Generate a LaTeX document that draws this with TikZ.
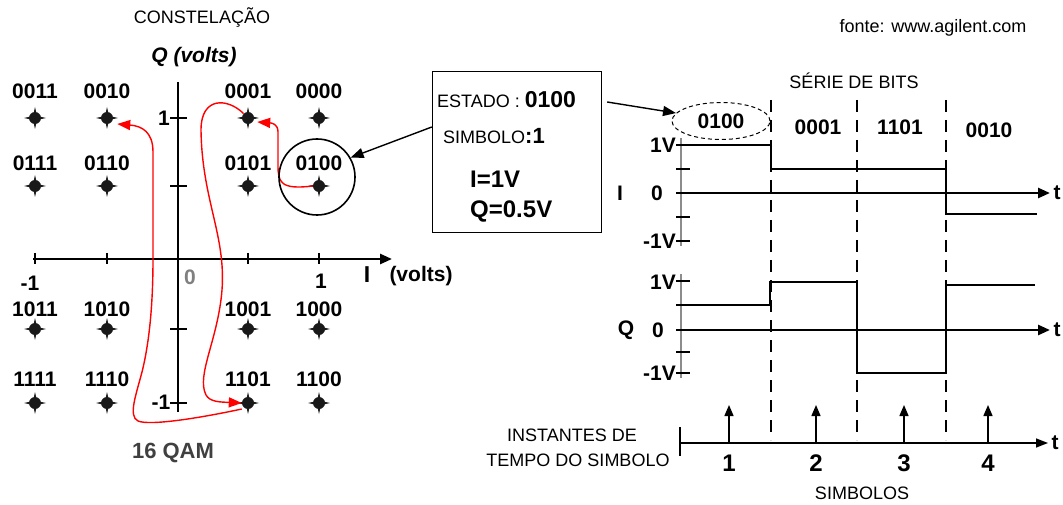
\documentclass[tikz,border=0pt]{standalone}
\usepackage{fontspec}
\setmainfont{Liberation Sans}
\usetikzlibrary{arrows.meta,shapes.geometric}

\tikzset{
  qampt/.style={circle, fill=black!90, inner sep=0pt, minimum size=12pt},
  ptstar/.style={black!90},
  bitlbl/.style={font=\fontsize{21}{23}\selectfont\bfseries, inner sep=0pt},
  axnum/.style={font=\fontsize{21}{23}\selectfont\bfseries, inner sep=0pt},
  plaintxt/.style={font=\fontsize{18}{20}\selectfont, inner sep=0pt},
  axisline/.style={line width=2.6pt},
  tipaxis/.style={line width=2.6pt, -{Triangle[length=12pt,width=10pt]}},
  tickline/.style={line width=2pt},
  redpath/.style={red, line width=1.4pt, -{Triangle[length=13pt,width=10pt]}},
  blkarrow/.style={line width=1.4pt, -{Triangle[length=13pt,width=10pt]}},
  uparrow/.style={line width=1.4pt, -{Triangle[length=11pt,width=9pt]}},
  wave/.style={line width=2.8pt},
  vaxis/.style={line width=2.6pt, black!45},
  bound/.style={line width=1.3pt, dash pattern=on 12pt off 8pt},
}

\begin{document}
\begin{tikzpicture}[x=1pt,y=-1pt]
\useasboundingbox (0,0) rectangle (1063,505);

% constellation
\node[plaintxt] (constit) at (202,18) {CONSTELAÇÃO};
\node[axnum, font=\fontsize{21}{23}\selectfont\bfseries\itshape] (qvolts) at (194,57) {Q (volts)};
\draw[tipaxis] (33,259) -- (392,259);
\draw[axisline] (178,82) -- (178,412);
\foreach \tx in {35,107,248,319} \draw[tickline] (\tx,253) -- (\tx,264);
\foreach \ty in {118,186,329,403} \draw[tickline] (170,\ty) -- (187,\ty);
\node[axnum] (qone) at (164,118) {1};
\node[axnum] (qmone) at (161,402) {-1};
\node[axnum] (imone) at (30,283) {-1};
\node[axnum, text=black!50] (izero) at (190,277) {0};
\node[axnum] (ione) at (321,281) {1};
\node[axnum, font=\fontsize{23}{25}\selectfont\bfseries] (ilbl) at (367,275) {I};
\node[axnum] (ivolts) at (421,276) {(volts)};
\node[axnum, font=\fontsize{22}{24}\selectfont\bfseries, text=black!75] (qam) at (173,453) {16 QAM};

\foreach \b/\px/\py/\ly in {0011/35/118/91, 0010/107/118/91, 0001/248/118/91, 0000/319/118/91,
    0111/35/186/163, 0110/107/186/163, 0101/248/186/163, 0100/319/186/163,
    1011/35/329/309, 1010/107/329/309, 1001/248/329/309, 1000/319/329/309,
    1111/35/403/379, 1110/107/403/379, 1101/248/403/379, 1100/319/403/379}{
  \node[qampt] (p\b) at (\px,\py) {};
  \fill[ptstar] (p\b.center) +(-11,0) -- +(-2,-2) -- +(0,-11) -- +(2,-2) -- +(11,0)
    -- +(2,2) -- +(0,11) -- +(-2,2) -- cycle;
  \node[bitlbl] (l\b) at (\px,\ly) {\b};
}

% path of the symbols
\draw[redpath] (p0100.west) .. controls (280,190) and (278,182) .. (278,165)
  -- (278,132) .. controls (278,124) and (272,123) .. ([xshift=3pt,yshift=-4pt]p0001.east);
\draw[redpath] (p0001.north west) .. controls (228,98) and (201,96) .. (201,130)
  .. controls (202,200) and (226,235) .. (222,290)
  .. controls (218,340) and (196,375) .. (206,395)
  .. controls (210,402) and (220,402) .. (p1101.west);
\draw[redpath] ([yshift=-6pt]p1101.west) .. controls (200,418) and (150,426) .. (138,421)
  .. controls (128,416) and (136,395) .. (142,372)
  .. controls (150,340) and (153,300) .. (153,259) -- (153,152)
  .. controls (153,132) and (142,126) .. ([xshift=4pt,yshift=-6pt]p0010.east);

\node[draw, circle, line width=1.6pt, minimum size=76pt, inner sep=0pt] (sel) at (317,177) {};

% state box
\node[draw, line width=1.4pt, minimum width=169pt, minimum height=161pt, inner sep=0pt] (infobox) at (517,152) {};
\node[plaintxt, anchor=base west] (estado) at (437,108)
  {ESTADO : {\fontsize{23}{25}\selectfont\bfseries 0100}};
\node[plaintxt, anchor=base west] (simbolo) at (443,144)
  {SIMBOLO{\fontsize{22}{24}\selectfont\bfseries :1}};
\node[bitlbl, font=\fontsize{24}{26}\selectfont\bfseries, anchor=base west] (ival) at (470,188) {I=1V};
\node[bitlbl, font=\fontsize{24}{26}\selectfont\bfseries, anchor=base west] (qval) at (470,218) {Q=0.5V};
\draw[blkarrow] ([yshift=25pt]infobox.west) -- (sel.30);

% bit series
\node[plaintxt] (fonte) at (933,28) {fonte: www.agilent.com};
\node[plaintxt] (serie) at (854,81) {SÉRIE DE BITS};
\node[bitlbl, ellipse, draw, line width=1pt, dash pattern=on 4pt off 3pt,
  minimum width=98pt, minimum height=37pt] (bitsel) at (721,121) {0100};
\node[bitlbl] (bita) at (818,127) {0001};
\node[bitlbl] (bitb) at (900,127) {1101};
\node[bitlbl] (bitc) at (989,130) {0010};
\draw[blkarrow] ([xshift=5pt,yshift=50pt]infobox.east) -- (bitsel.170);

\foreach \dx in {771,857,946} \draw[bound] (\dx,100) -- (\dx,440);

% I signal
\draw[vaxis] (681,138) -- (681,246);
\foreach \ty in {145,169,193,217,241} \draw[line width=1.4pt] (676,\ty) -- (690,\ty);
\draw[tipaxis] (677,193) -- (1050,193);
\node[bitlbl] (it) at (1057,193) {t};
\draw[wave] (681,145) -- (771,145) -- (771,169) -- (946,169) -- (946,214) -- (1037,214);
\node[axnum, anchor=east] (ipos) at (676,145) {1V};
\node[axnum] (inul) at (657,193) {0};
\node[axnum] (iname) at (620,193) {I};
\node[axnum, anchor=east] (ineg) at (676,241) {-1V};

% Q signal
\draw[vaxis] (681,274) -- (681,378);
\foreach \ty in {281,305,330,352,373} \draw[line width=1.4pt] (676,\ty) -- (690,\ty);
\draw[tipaxis] (677,330) -- (1050,330);
\node[bitlbl] (qt) at (1057,330) {t};
\draw[wave] (681,305) -- (770,305) -- (770,282) -- (857,282) -- (857,373) -- (946,373) -- (946,285) -- (1035,285);
\node[axnum, anchor=east] (qpos) at (676,282) {1V};
\node[axnum] (qnul) at (658,330) {0};
\node[axnum] (qname) at (626,330) {Q};
\node[axnum, anchor=east] (qneg) at (676,373) {-1V};

% symbol instants
\draw[line width=1.4pt, -{Triangle[length=12pt,width=9pt]}] (680,443) -- (1048,443);
\draw[line width=1.4pt] (680,427) -- (680,456);
\node[bitlbl] (st) at (1055,443) {t};
\foreach \n/\sx in {1/729,2/816,3/904,4/988}{
  \coordinate (s\n) at (\sx,443);
  \draw[uparrow] (s\n) -- ++(0,-38);
  \node[bitlbl, font=\fontsize{24}{26}\selectfont\bfseries] (n\n) at (\sx,463) {\n};
}
\node[plaintxt] (instA) at (572,435) {INSTANTES DE};
\node[plaintxt] (instB) at (578,460) {TEMPO DO SIMBOLO};
\node[plaintxt] (simbs) at (862,493) {SIMBOLOS};
\end{tikzpicture}
\end{document}
